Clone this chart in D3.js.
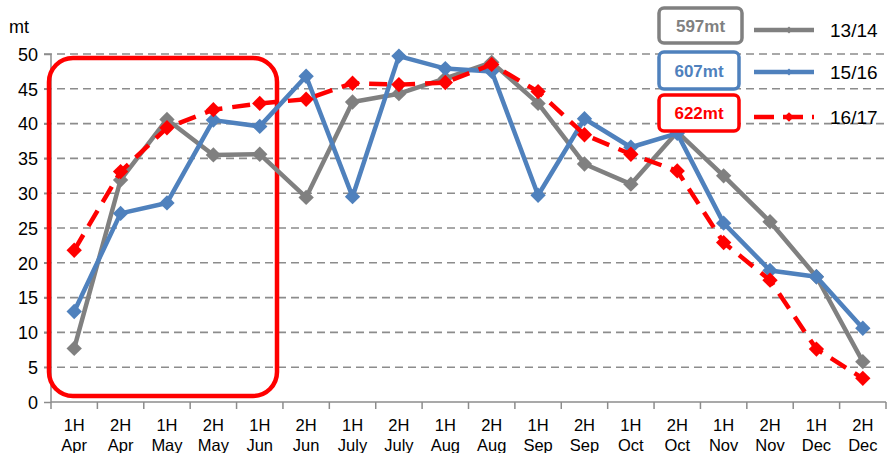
<!DOCTYPE html>
<html>
<head>
<meta charset="utf-8">
<script src="https://cdn.jsdelivr.net/npm/d3@7"></script>
<style>
  html, body { margin: 0; padding: 0; background: #fff; }
  svg { display: block; font-family: 'Liberation Sans', Arial, sans-serif; }
</style>
</head>
<body>
<script>
// Data
var halves = ["1H", "2H", "1H", "2H", "1H", "2H", "1H", "2H", "1H", "2H", "1H", "2H", "1H", "2H", "1H", "2H", "1H", "2H"];
var months = ["Apr", "Apr", "May", "May", "Jun", "Jun", "July", "July", "Aug", "Aug", "Sep", "Sep", "Oct", "Oct", "Nov", "Nov", "Dec", "Dec"];
var s1314 = [7.7, 31.9, 40.6, 35.5, 35.6, 29.4, 43.1, 44.3, 46.5, 48.8, 42.9, 34.2, 31.3, 38.8, 32.5, 25.9, 18.0, 5.8];
var s1516 = [13.0, 27.1, 28.6, 40.5, 39.6, 46.8, 29.5, 49.7, 47.9, 47.5, 29.7, 40.7, 36.6, 38.6, 25.7, 18.9, 18.0, 10.6];
var s1617 = [21.8, 33.1, 39.4, 42.0, 42.9, 43.5, 45.8, 45.6, 45.9, 48.5, 44.6, 38.4, 35.6, 33.2, 22.9, 17.5, 7.6, 3.4];
var yTicks = [0, 5, 10, 15, 20, 25, 30, 35, 40, 45, 50];
var seriesNames = ["13/14", "15/16", "16/17"];
var totals = ["597mt", "607mt", "622mt"];

var W = 887, H = 453;
var plotL = 51, plotR = 886, plotT = 54, plotB = 402;

var svg = d3.select("body").append("svg")
    .attr("width", W)
    .attr("height", H);

var x = d3.scaleBand()
    .domain(d3.range(halves.length))
    .range([plotL, plotR]);

var y = d3.scaleLinear()
    .domain([0, 50])
    .range([plotB, plotT]);

// Gridlines (dashed)
svg.append("g")
    .selectAll("line")
    .data(yTicks.slice(1))
    .enter().append("line")
    .attr("x1", plotL - 7)
    .attr("x2", plotR)
    .attr("y1", function (d) { return y(d); })
    .attr("y2", function (d) { return y(d); })
    .style("stroke", "#8c8c8c")
    .style("stroke-width", 1.6)
    .style("stroke-dasharray", "8,5");

// Y axis
var yAxis = svg.append("g")
    .attr("transform", "translate(" + plotL + ",0)")
    .call(d3.axisLeft(y).tickValues(yTicks).tickSize(7).tickPadding(6));
yAxis.select(".domain").style("stroke", "#8c8c8c").style("stroke-width", 1.5)
    .attr("d", "M0," + plotT + "V" + plotB);
yAxis.selectAll(".tick line").style("stroke", "#8c8c8c").style("stroke-width", 1.5);
yAxis.selectAll(".tick text")
    .style("font-size", "18px")
    .style("font-family", "'Liberation Sans', Arial, sans-serif")
    .style("fill", "#000")
    .attr("dy", "0.35em");

// X axis
var xAxis = svg.append("g")
    .attr("transform", "translate(0," + plotB + ")")
    .call(d3.axisBottom(x).tickSize(0).tickFormat(""));
xAxis.select(".domain").style("stroke", "#8c8c8c").style("stroke-width", 1.5)
    .attr("d", "M" + plotL + ",0H" + plotR);

// x tick marks at band edges
svg.append("g")
    .selectAll("line")
    .data(d3.range(halves.length + 1))
    .enter().append("line")
    .attr("x1", function (i) { return i < halves.length ? x(i) : x(i - 1) + x.bandwidth(); })
    .attr("x2", function (i) { return i < halves.length ? x(i) : x(i - 1) + x.bandwidth(); })
    .attr("y1", plotB)
    .attr("y2", plotB + 7)
    .style("stroke", "#8c8c8c")
    .style("stroke-width", 1.5);

var xlab = svg.append("g").selectAll("text")
    .data(d3.range(halves.length))
    .enter().append("text")
    .attr("x", function (i) { return x(i) + x.bandwidth() / 2; })
    .attr("y", 431)
    .attr("text-anchor", "middle")
    .style("font-size", "16.5px")
    .style("fill", "#000");
xlab.append("tspan")
    .attr("x", function (i) { return x(i) + x.bandwidth() / 2; })
    .text(function (i) { return halves[i]; });
xlab.append("tspan")
    .attr("x", function (i) { return x(i) + x.bandwidth() / 2; })
    .attr("dy", 20)
    .text(function (i) { return months[i]; });

// Unit label
svg.append("text")
    .attr("x", 9)
    .attr("y", 33)
    .style("font-size", "18px")
    .text("mt");

// Red highlight box
svg.append("rect")
    .attr("x", 49)
    .attr("y", 58)
    .attr("width", 228)
    .attr("height", 338)
    .attr("rx", 24)
    .attr("ry", 24)
    .style("fill", "none")
    .style("stroke", "#ff0000")
    .style("stroke-width", 4.5);

// Series
var series = [
    { name: seriesNames[0], values: s1314, color: "#808080", dash: null },
    { name: seriesNames[1], values: s1516, color: "#4f81bd", dash: null },
    { name: seriesNames[2], values: s1617, color: "#ff0000", dash: "18,10" }
];

var line = d3.line()
    .x(function (d, i) { return x(i) + x.bandwidth() / 2; })
    .y(function (d) { return y(d); });

var diamond = d3.symbol().type(d3.symbolDiamond2).size(150);

series.forEach(function (s) {
    var g = svg.append("g");
    g.append("path")
        .datum(s.values)
        .attr("d", line)
        .style("fill", "none")
        .style("stroke", s.color)
        .style("stroke-width", 4.5)
        .style("stroke-linejoin", "round")
        .style("stroke-dasharray", s.dash);
    g.selectAll("path.mk")
        .data(s.values)
        .enter().append("path")
        .attr("class", "mk")
        .attr("d", diamond)
        .attr("transform", function (d, i) {
            return "translate(" + (x(i) + x.bandwidth() / 2) + "," + y(d) + ")";
        })
        .style("fill", s.color);
});

// Legend
var boxes = [
    { x: 659, y: 8, w: 83, h: 35 },
    { x: 659, y: 52, w: 80, h: 37 },
    { x: 659, y: 95, w: 80, h: 36 }
];
var legendY = [30, 72, 117];

series.forEach(function (s, i) {
    var b = boxes[i];
    svg.append("rect")
        .attr("x", b.x)
        .attr("y", b.y)
        .attr("width", b.w)
        .attr("height", b.h)
        .attr("rx", 5)
        .style("fill", "#fff")
        .style("stroke", s.color)
        .style("stroke-width", 3.5);
    svg.append("text")
        .attr("x", b.x + b.w / 2)
        .attr("y", b.y + b.h / 2)
        .attr("dy", "0.36em")
        .attr("text-anchor", "middle")
        .style("font-size", "17px")
        .style("font-weight", "bold")
        .style("fill", s.color)
        .text(totals[i]);

    svg.append("line")
        .attr("x1", 754)
        .attr("x2", 814)
        .attr("y1", legendY[i])
        .attr("y2", legendY[i])
        .style("stroke", s.color)
        .style("stroke-width", 4.5)
        .style("stroke-dasharray", s.dash ? "20,9" : null);
    svg.append("path")
        .attr("d", d3.symbol().type(d3.symbolDiamond2).size(i == 2 ? 60 : 30))
        .attr("transform", "translate(" + 789 + "," + legendY[i] + ")")
        .style("fill", s.color);
    svg.append("text")
        .attr("x", 830)
        .attr("y", legendY[i])
        .attr("dy", "0.36em")
        .style("font-size", "19px")
        .text(s.name);
});
</script>
</body>
</html>
